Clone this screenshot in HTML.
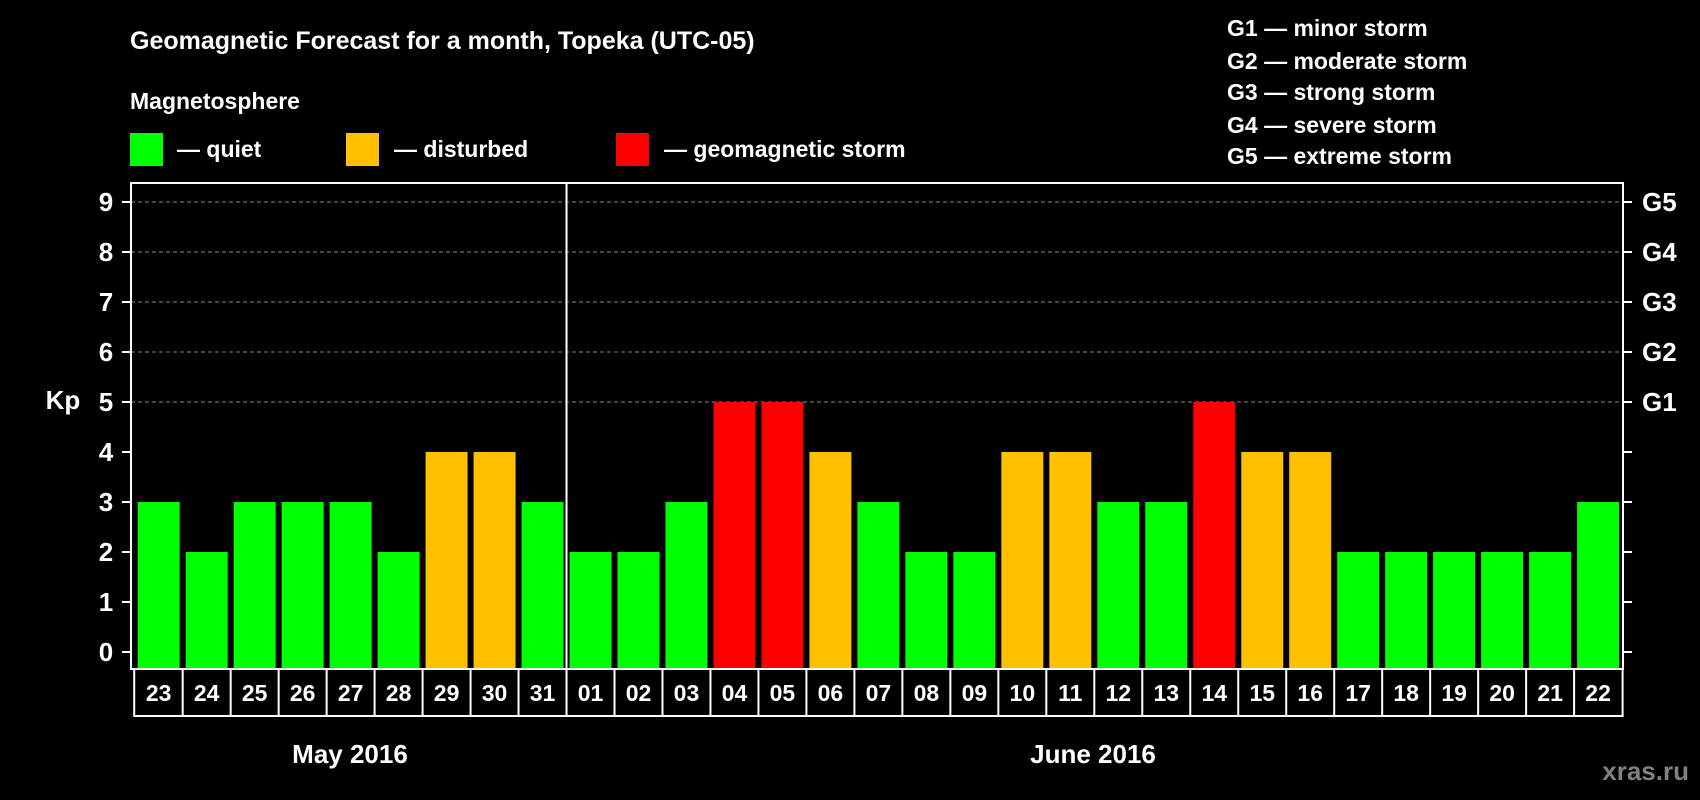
<!DOCTYPE html>
<html><head><meta charset="utf-8"><style>
html,body{margin:0;padding:0;background:#000;}
svg{display:block;font-family:"Liberation Sans",Arial,sans-serif;font-weight:bold;}
</style></head><body>
<svg id="chart" width="1700" height="800" viewBox="0 0 1700 800" xmlns="http://www.w3.org/2000/svg">
<rect width="1700" height="800" fill="#000"/>
<text x="130" y="49" fill="#fff" font-size="25">Geomagnetic Forecast for a month, Topeka (UTC-05)</text>
<text x="130" y="109" fill="#fff" font-size="23">Magnetosphere</text>
<g><rect x="130" y="133" width="33" height="33" fill="#00ff00"/><text x="177" y="157" fill="#fff" font-size="23">— quiet</text></g>
<g><rect x="346" y="133" width="33" height="33" fill="#ffc000"/><text x="394" y="157" fill="#fff" font-size="23">— disturbed</text></g>
<g><rect x="616" y="133" width="33" height="33" fill="#ff0000"/><text x="664" y="157" fill="#fff" font-size="23">— geomagnetic storm</text></g>
<g fill="#fff" font-size="23">
<text x="1227" y="36">G1 — minor storm</text>
<text x="1227" y="69">G2 — moderate storm</text>
<text x="1227" y="100">G3 — strong storm</text>
<text x="1227" y="133">G4 — severe storm</text>
<text x="1227" y="164">G5 — extreme storm</text>
</g>
<text x="63" y="409" fill="#fff" font-size="26" text-anchor="middle">Kp</text>
<text x="350" y="763" fill="#fff" font-size="26" text-anchor="middle">May 2016</text>
<text x="1093" y="763" fill="#fff" font-size="26" text-anchor="middle">June 2016</text>
<text x="1689" y="780" fill="#808080" font-size="26" text-anchor="end">xras.ru</text>
<g id="plot"></g>
</svg>
<script>
const days = ["23","24","25","26","27","28","29","30","31","01","02","03","04","05","06","07","08","09","10","11","12","13","14","15","16","17","18","19","20","21","22"];
const kpValues = [3,2,3,3,3,2,4,4,3,2,2,3,5,5,4,3,2,2,4,4,3,3,5,4,4,2,2,2,2,2,3];
const yTicks = [0,1,2,3,4,5,6,7,8,9];
const gLabels = ["G1","G2","G3","G4","G5"];
const gLevels = [5,6,7,8,9];

const NS="http://www.w3.org/2000/svg";
const plot=document.getElementById('plot');
const L=131,R=1623,T=183,B=669,Y0=652,U=50;
const X0=137.7,P=47.98,W=42;
const y=v=>Y0-v*U;
const x=i=>X0+i*P;
function mk(tag,attrs,parent){const e=document.createElementNS(NS,tag);for(const k in attrs)e.setAttribute(k,attrs[k]);(parent||plot).appendChild(e);return e;}
// grid
gLevels.forEach(v=>{
  const g=mk('line',{x1:L,x2:R,y1:y(v),y2:y(v),stroke:'#888','stroke-width':1,'stroke-dasharray':'4,3'});
  
  
});
// bars
kpValues.forEach((v,i)=>{
  const c=v>=5?'#ff0000':(v>=4?'#ffc000':'#00ff00');
  const b=mk('rect',{x:x(i),y:y(v),width:W,height:B-y(v),fill:c});
  
  
});
// frame
const fr=mk('rect',{x:L,y:T,width:R-L,height:B-T,fill:'none',stroke:'#fff','stroke-width':2});


const dv=mk('line',{x1:x(9)-3,x2:x(9)-3,y1:T,y2:B,stroke:'#fff','stroke-width':2});


// y ticks
yTicks.forEach(v=>{
  const t=mk('line',{x1:L-9,x2:L,y1:y(v),y2:y(v),stroke:'#fff','stroke-width':2});
  
  
  const t2=mk('line',{x1:R,x2:R+9,y1:y(v),y2:y(v),stroke:'#fff','stroke-width':2});
  
  
  const l=mk('text',{x:106,y:y(v)+9,fill:'#fff','font-size':26,'text-anchor':'middle'});
  l.textContent=v;
  
  
});
gLabels.forEach((g,i)=>{
  const l=mk('text',{x:1642,y:y(gLevels[i])+9,fill:'#fff','font-size':26});
  l.textContent=g;
  
  
});
// date boxes
const dbT=669,dbB=716;
const db=mk('rect',{x:x(0)-3.5,y:dbT,width:x(days.length-1)+W+3.5-(x(0)-3.5),height:dbB-dbT,fill:'none',stroke:'#fff','stroke-width':2});


days.forEach((d,i)=>{
  if(i>0){
    const s=mk('line',{x1:x(i)-3,x2:x(i)-3,y1:dbT,y2:dbB,stroke:'#fff','stroke-width':2});
    
    
  }
  const t=mk('text',{x:x(i)+W/2,y:701,fill:'#fff','font-size':23,'text-anchor':'middle'});
  t.textContent=d;
  
  
});
</script>
</body></html>
